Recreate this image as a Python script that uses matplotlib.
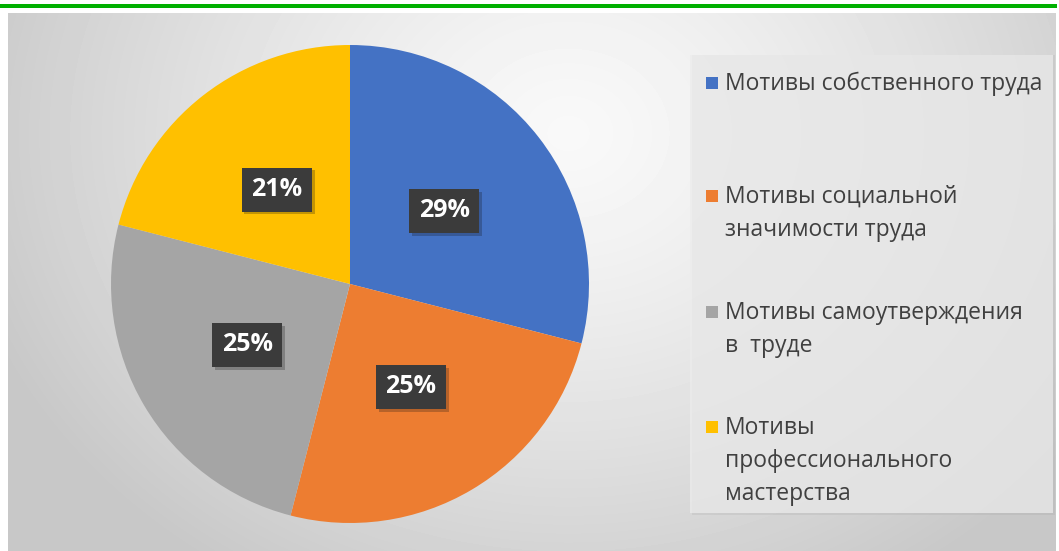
import numpy as np
import matplotlib
matplotlib.use('Agg')
import matplotlib.pyplot as plt
from matplotlib.patches import Rectangle
import matplotlib.patheffects as pe

labels = ['Мотивы собственного труда',
          'Мотивы социальной\nзначимости труда',
          'Мотивы самоутверждения\nв  труде',
          'Мотивы\nпрофессионального\nмастерства']
shares = [29, 25, 25, 21]
colors = ['#4472c4', '#ed7d31', '#a5a5a5', '#ffc000']

W, H = 1059, 551
fig = plt.figure(figsize=(W / 100, H / 100), dpi=100)
fig.patch.set_facecolor('white')

# green rule at the very top
fig.add_artist(Rectangle((0, 1 - 7.5 / H), 1057 / W, 3.5 / H, transform=fig.transFigure,
                         color='#00b000', lw=0))

# background panel with radial gradient
bg = fig.add_axes([8 / W, 0, (1056 - 8) / W, (551 - 13) / H])
yy, xx = np.mgrid[0:538, 0:1048]
d = np.sqrt(((xx - 560) / 620.0) ** 2 + ((yy - 120) / 520.0) ** 2)
shade = 0.975 - 0.19 * np.clip(d, 0, 1) ** 1.3
bg.imshow(shade, cmap='gray', vmin=0, vmax=1, aspect='auto', interpolation='bilinear')
bg.set_axis_off()

# legend panel
fig.add_artist(Rectangle((692 / W, 1 - 515 / H), 363 / W, 460 / H, transform=fig.transFigure,
                         color='#9a9a9a', alpha=0.18, lw=0))
fig.add_artist(Rectangle((690 / W, 1 - 513 / H), 363 / W, 458 / H, transform=fig.transFigure,
                         color='#ececec', alpha=0.75, lw=0))

# pie
cx, cy, r = 350, 284, 239
ax = fig.add_axes([(cx - r) / W, (H - cy - r) / H, 2 * r / W, 2 * r / H])
wedges, texts = ax.pie(shares, colors=colors, startangle=90, counterclock=False,
                       radius=1, labels=[f'{s}%' for s in shares], labeldistance=0.5,
                       wedgeprops=dict(linewidth=0))
for t in texts:
    t.set_ha('center')
    t.set_va('center')
    t.set_color('white')
    t.set_fontsize(18)
    t.set_fontweight('bold')
    t.set_fontfamily('Open Sans')
    t.set_bbox(dict(boxstyle='square,pad=0.38', fc='#3b3b3b', ec='none'))
    t.get_bbox_patch().set_path_effects([pe.SimplePatchShadow(offset=(2, -2), alpha=0.25),
                                         pe.Normal()])
ax.set_xlim(-1, 1)
ax.set_ylim(-1, 1)
ax.set_aspect('equal')

# legend entries (first-line baselines in pixels)
baselines = [90, 203, 319, 434]
for lab, col, base in zip(labels, colors, baselines):
    fig.add_artist(Rectangle((706 / W, 1 - (base - 1) / H), 12 / W, 12 / H,
                             transform=fig.transFigure, color=col, lw=0))
    fig.text(725 / W, 1 - (base - 18) / H, lab, ha='left', va='top', fontsize=16.5,
             family='Open Sans', color='#404040', linespacing=1.5)

fig.savefig('out.png', dpi=100)
